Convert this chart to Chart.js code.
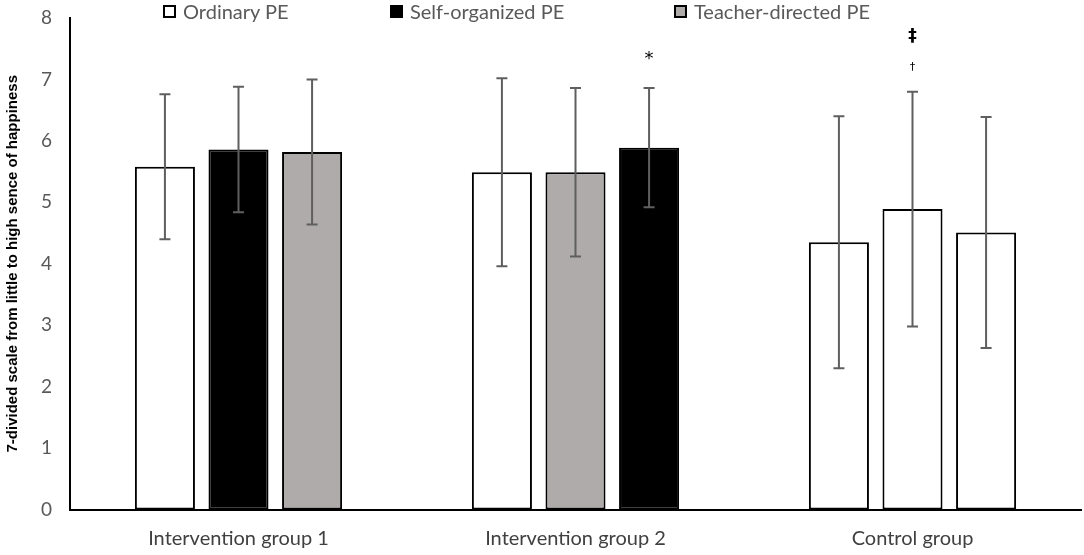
<!DOCTYPE html>
<html>
<head>
<meta charset="utf-8">
<script src="https://cdn.jsdelivr.net/npm/chart.js@4/dist/chart.umd.min.js"></script>
<style>
html,body{margin:0;padding:0;background:#fff;}
#wrap{position:relative;width:1084px;height:555px;}
#legend{position:absolute;left:0;top:0;width:1084px;height:22px;font-family:Lato,"Noto Sans",sans-serif;font-size:20px;color:#595959;pointer-events:none;}
.item{position:absolute;top:0;height:22px;display:flex;align-items:center;white-space:nowrap;}
.box{width:9px;height:9px;border:2px solid #000;margin-right:7px;flex:none;}
</style>
</head>
<body>
<div id="wrap"><canvas id="c"></canvas><div id="legend"></div></div>
<script>
// ---- data ----
const categories = ['Intervention group 1', 'Intervention group 2', 'Control group'];
const conditionNames = ['Ordinary PE', 'Self-organized PE', 'Teacher-directed PE'];
const conditionColors = ['#FFFFFF', '#000000', '#AFABAB'];

const firstBarMeans  = [5.58, 5.49, 4.35];
const secondBarMeans = [5.86, 5.49, 4.89];
const thirdBarMeans  = [5.82, 5.89, 4.51];

const firstBarSD  = [1.18, 1.53, 2.05];
const secondBarSD = [1.02, 1.37, 1.91];
const thirdBarSD  = [1.18, 0.97, 1.88];

// condition shown by each bar (index into conditionNames)
const firstBarCondition  = [0, 0, 0];
const secondBarCondition = [1, 2, 0];
const thirdBarCondition  = [2, 1, 0];

// significance marks above each bar
const firstBarMarks  = [[], [], []];
const secondBarMarks = [[], [], ['†', '‡']];
const thirdBarMarks  = [[], ['*'], []];

const yTicks = [0, 1, 2, 3, 4, 5, 6, 7, 8];
const yTitle = '7-divided scale from little to high sence of happiness';

// ---- styles ----
const legendLefts = [163, 390, 674];
const markStyle = {
  '*': {font: '18px "DejaVu Sans"', offset: 29},
  '†': {font: '11px "DejaVu Sans"', offset: 25},
  '‡': {font: 'bold 17px "DejaVu Sans"', offset: 55}
};

// ---- HTML legend ----
const legendEl = document.getElementById('legend');
conditionNames.forEach((name, i) => {
  const it = document.createElement('div');
  it.className = 'item';
  it.style.left = legendLefts[i] + 'px';
  const b = document.createElement('span');
  b.className = 'box';
  b.style.background = conditionColors[i];
  const t = document.createElement('span');
  t.textContent = name;
  it.appendChild(b); it.appendChild(t);
  legendEl.appendChild(it);
});

function makeDataset(label, means, sds, conds, marks) {
  return {
    label: label,
    data: means,
    sd: sds,
    marks: marks,
    backgroundColor: conds.map(c => conditionColors[c]),
    borderColor: '#000000',
    borderWidth: 2,
    borderSkipped: false
  };
}

const errorBarPlugin = {
  id: 'errorBars',
  afterDatasetsDraw(chart) {
    const ctx = chart.ctx;
    const y = chart.scales.y;
    chart.data.datasets.forEach((ds, di) => {
      const meta = chart.getDatasetMeta(di);
      meta.data.forEach((bar, i) => {
        const m = ds.data[i], s = ds.sd[i];
        const yt = y.getPixelForValue(m + s);
        const yb = y.getPixelForValue(m - s);
        const x = bar.x;
        ctx.save();
        ctx.strokeStyle = '#5F5F5F';
        ctx.lineWidth = 2;
        ctx.beginPath();
        ctx.moveTo(x, yt); ctx.lineTo(x, yb);
        ctx.moveTo(x - 5.5, yt); ctx.lineTo(x + 5.5, yt);
        ctx.moveTo(x - 5.5, yb); ctx.lineTo(x + 5.5, yb);
        ctx.stroke();
        ctx.fillStyle = '#000';
        ctx.textAlign = 'center';
        ctx.textBaseline = 'middle';
        (ds.marks[i] || []).forEach(mk => {
          const st = markStyle[mk];
          ctx.font = st.font;
          ctx.fillText(mk, x, yt - st.offset);
        });
        ctx.restore();
      });
    });
  }
};

new Chart(document.getElementById('c'), {
  type: 'bar',
  data: {
    labels: categories,
    datasets: [
      makeDataset('Bar 1', firstBarMeans, firstBarSD, firstBarCondition, firstBarMarks),
      makeDataset('Bar 2', secondBarMeans, secondBarSD, secondBarCondition, secondBarMarks),
      makeDataset('Bar 3', thirdBarMeans, thirdBarSD, thirdBarCondition, thirdBarMarks)
    ]
  },
  plugins: [errorBarPlugin],
  options: {
    responsive: true,
    maintainAspectRatio: false,
    animation: false,
    layout: {padding: {top: 18, left: 4, right: 3, bottom: 0}},
    datasets: {bar: {categoryPercentage: 0.655, barPercentage: 0.816}},
    plugins: {legend: {display: false}, tooltip: {enabled: false}},
    scales: {
      x: {
        grid: {display: false, drawTicks: false},
        border: {display: true, color: '#000', width: 2},
        ticks: {padding: 17.5, color: '#404040', font: {family: 'Lato', size: 20}},
        afterFit(scale) { scale.height = 45.5; }
      },
      y: {
        min: yTicks[0],
        max: yTicks[yTicks.length - 1],
        afterBuildTicks(scale) { scale.ticks = yTicks.map(v => ({value: v})); },
        grid: {display: false, drawTicks: false},
        border: {display: true, color: '#000', width: 2},
        ticks: {padding: 18, color: '#595959', font: {family: 'Lato', size: 19}},
        title: {
          display: true,
          text: yTitle,
          align: 'center',
          color: '#000',
          font: {family: 'Liberation Sans', weight: 'bold', size: 15},
          padding: {top: 0, bottom: 10}
        },
        afterFit(scale) { scale.width = 66; scale.paddingTop = 0; scale.paddingBottom = 0; }
      }
    }
  }
});
</script>
</body>
</html>
